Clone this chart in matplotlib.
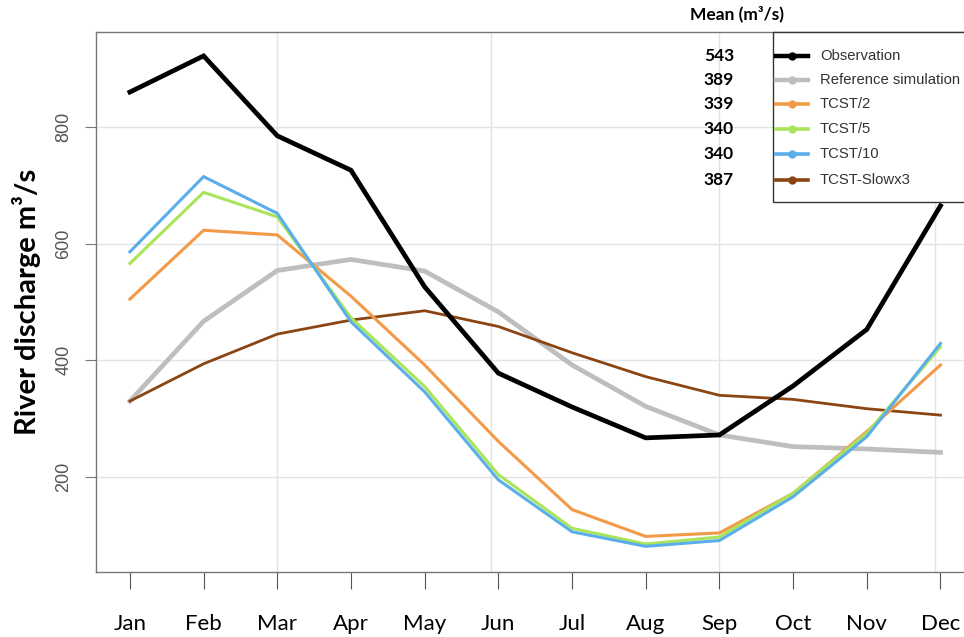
import matplotlib
matplotlib.use("Agg")
import matplotlib.pyplot as plt
from matplotlib.lines import Line2D
from matplotlib.patches import Rectangle

months = ["Jan", "Feb", "Mar", "Apr", "May", "Jun", "Jul", "Aug", "Sep", "Oct", "Nov", "Dec"]
observation = [860, 922, 785, 726, 526, 378, 320, 267, 272, 356, 453, 665]
reference = [330, 467, 554, 573, 553, 483, 392, 321, 272, 252, 248, 242]
tcst2 = [505, 623, 615, 510, 392, 261, 144, 98, 104, 172, 278, 392]
tcst5 = [566, 688, 646, 473, 355, 204, 112, 85, 97, 172, 275, 423]
tcst10 = [586, 715, 652, 466, 346, 195, 106, 81, 91, 166, 269, 429]
slowx3 = [330, 394, 445, 469, 485, 458, 413, 372, 340, 333, 317, 306]
series_names = ["Observation", "Reference simulation", "TCST/2", "TCST/5", "TCST/10", "TCST-Slowx3"]
mean_values = ["543", "389", "339", "340", "340", "387"]
y_ticks = [200, 400, 600, 800]

colors = ["#000000", "#BEBEBE", "#F39A48", "#A9E55A", "#5AAEEA", "#8B4513"]
widths = [3.4, 3.4, 2.2, 2.2, 2.2, 2.0]
all_series = [observation, reference, tcst2, tcst5, tcst10, slowx3]

W, H = 964, 637
fig = plt.figure(figsize=(W / 100, H / 100), dpi=100)
ax = fig.add_axes([96 / W, 1 - 572 / H, 1 - 96 / W + 0.01, (572 - 32) / H])

x = list(range(len(months)))
order = [1, 5, 2, 3, 4, 0]
for i in order:
    ax.plot(x, all_series[i], color=colors[i], lw=widths[i], solid_joinstyle="miter", zorder=3)

ax.set_xlim(-0.46, 11.45)
ax.set_ylim(37, 963)

for yv in y_ticks:
    ax.axhline(yv, color="#E3E3E3", lw=1, zorder=1)
for xv in [2.0, 4.9, 8.0, 10.93]:
    ax.axvline(xv, color="#E3E3E3", lw=1, zorder=1)

for s in ["left", "bottom", "top"]:
    ax.spines[s].set_color("#777777")
    ax.spines[s].set_linewidth(1.0)
ax.spines["right"].set_visible(False)

ax.set_yticks(y_ticks)
ax.set_yticklabels([str(v) for v in y_ticks], rotation=90, va="center",
                   fontsize=13, color="#555555", family="Liberation Sans")
ax.tick_params(axis="y", direction="out", length=8, color="#777777", pad=9)

ax.set_xticks(x)
ax.set_xticklabels(months, fontsize=16, family="Lato", color="black")
ax.tick_params(axis="x", direction="out", length=12, color="#555555", pad=18)

ax.set_ylabel("River discharge m³/s", fontsize=21, fontweight="bold", family="Lato", labelpad=10)

# Legend box (manual)
ft = fig.transFigure
def fx(px):
    return px / W
def fy(py):
    return 1 - py / H

fig.patches.append(Rectangle((fx(773), fy(202)), fx(1000) - fx(773), fy(32) - fy(202),
                             transform=ft, fill=True, facecolor="white", edgecolor="#333333",
                             lw=1.0, zorder=5, clip_on=False))
rows_y = [56, 80, 104, 129, 154, 180]
for i, name in enumerate(series_names):
    yy = fy(rows_y[i])
    fig.add_artist(Line2D([fx(776), fx(808)], [yy, yy], transform=ft, color=colors[i],
                          lw=3.2 if i < 2 else 2.6, zorder=6))
    fig.add_artist(Line2D([fx(792)], [yy], transform=ft, color=colors[i], marker="o",
                          markersize=5, zorder=7))
    fig.text(fx(820), yy, name, fontsize=10.7, family="Liberation Sans", color="#333333",
             va="center", ha="left", zorder=7)
    fig.text(fx(719), yy, mean_values[i], fontsize=12.5, family="Lato", fontweight="bold",
             va="center", ha="center", zorder=7)

fig.text(fx(737), fy(14), "Mean (m³/s)", fontsize=12.5, family="Lato", fontweight="bold",
         va="center", ha="center")

fig.savefig("out.png", dpi=100)
